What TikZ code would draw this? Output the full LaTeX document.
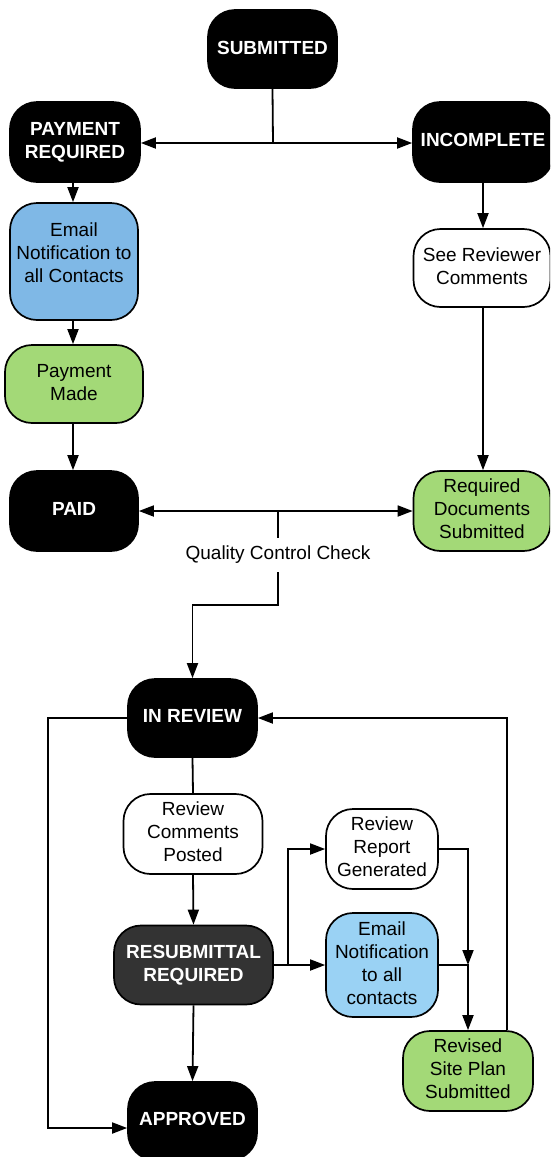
\documentclass[tikz,border=0pt]{standalone}
\usepackage{fontspec}
\setmainfont{Liberation Sans}
\usetikzlibrary{arrows.meta,positioning}
\definecolor{blueA}{HTML}{7FB8E6}
\definecolor{blueB}{HTML}{9AD2F4}
\definecolor{greenA}{HTML}{A3D977}
\definecolor{darkA}{HTML}{333333}
\newcommand\nodetext[2][0]{\raisebox{#1pt}[\height][\depth]{\begin{tabular}{@{}c@{}}#2\end{tabular}}}
\tikzset{
  base/.style={rounded corners=27pt, draw=black, line width=1.7pt,
    inner sep=0pt, font=\fontsize{19}{23}\selectfont},
  blk/.style={base, fill=black, text=white, font=\fontsize{19}{23}\selectfont\bfseries},
  drk/.style={base, fill=darkA, text=white, font=\fontsize{19}{23}\selectfont\bfseries},
  wht/.style={base, fill=white},
  blu/.style={base, fill=blueA},
  lblu/.style={base, fill=blueB},
  grn/.style={base, fill=greenA},
  sz/.style n args={2}{minimum width=#1pt, minimum height=#2pt},
  conn/.style={line width=1.8pt},
  arr/.style={conn, -{Triangle[length=15pt,width=11pt]}},
}
\begin{document}
\begin{tikzpicture}[x=1pt,y=-1pt]
\clip (0,0) rectangle (550,1157);
\fill[white] (0,0) rectangle (550,1157);
% nodes
\node[blk, sz={129}{78}] (sub) at (272.5,49) {\nodetext[-1]{SUBMITTED}};
\node[blk, sz={130}{80}] (pay) at (75,142) {\nodetext{PAYMENT\\REQUIRED}};
\node[blk, sz={140}{80}] (inc) at (483,142) {\nodetext{INCOMPLETE}};
\node[blu, sz={128}{117}] (em1) at (74,261.5) {\nodetext[7]{Email\\Notification to\\all Contacts}};
\node[grn, sz={138}{78}] (made) at (74,384) {\nodetext{Payment\\Made}};
\node[blk, sz={128}{80}] (paid) at (74,511) {\nodetext{PAID}};
\node[wht, sz={137}{78}] (see) at (482,268) {\nodetext{See Reviewer\\Comments}};
\node[grn, sz={137}{80}] (rds) at (482,511) {\nodetext{Required\\Documents\\Submitted}};
\node[font=\fontsize{19}{23}\selectfont, inner sep=0pt, minimum height=34pt] (qc) at (278,555) {Quality Control Check};
\node[blk, sz={129}{78}] (inrev) at (192.5,718) {\nodetext{IN REVIEW}};
\node[wht, sz={139}{80}] (rcp) at (193,834) {\nodetext{Review\\Comments\\Posted}};
\node[drk, sz={159}{79}] (resub) at (193.5,965) {\nodetext{RESUBMITTAL\\REQUIRED}};
\node[blk, sz={129}{78}] (appr) at (192.5,1121) {\nodetext{APPROVED}};
\node[wht, sz={112}{80}] (rrg) at (382,849) {\nodetext{Review\\Report\\Generated}};
\node[lblu, sz={112}{104}] (em2) at (382,965) {\nodetext{Email\\Notification\\to all\\contacts}};
\node[grn, sz={130}{80}] (rsps) at (468,1071) {\nodetext{Revised\\Site Plan\\Submitted}};
% junction coordinates
\coordinate (j1) at (273,143);
\coordinate (j2) at (278,511);
\coordinate (j3) at (288,965);
\coordinate (j4) at (468,965);
% connectors
\draw[conn] (sub.south) -- (j1);
\draw[arr] (j1) -- (j1 -| pay.east);
\draw[arr] (j1) -- (j1 -| inc.west);
\draw[arr] (pay.south -| 73,0) -- (em1.north -| 73,0);
\draw[arr] (em1.south -| 73,0) -- (made.north -| 73,0);
\draw[arr] (made.south -| 73,0) -- (paid.north -| 73,0);
\draw[arr] (inc.south -| 483,0) -- (see.north -| 483,0);
\draw[arr] (see.south -| 483,0) -- (rds.north -| 483,0);
\draw[arr] (j2) -- (paid.east);
\draw[arr] (j2) -- (rds.west);
\draw[conn] (j2) -- (qc.north -| j2);
\draw[arr] (qc.south -| j2) -- (278,605) -| (inrev.north);
\draw[arr] (inrev.west) -- (48,718) |- ([yshift=-7pt]appr.west);
\draw[arr] ([xshift=39pt]rsps.north) |- (inrev.east);
\draw[conn] (inrev.south) -- (rcp.north);
\draw[arr] (rcp.south) -- (resub.north);
\draw[arr] (resub.south) -- (appr.north);
\draw[arr] (resub.east) -- (j3) |- (rrg.west);
\draw[arr] (resub.east) -- (em2.west);
\draw[arr] (rrg.east) -| (j4);
\draw[arr] (em2.east) -- (j4) -- (j4 |- rsps.north);
\end{tikzpicture}
\end{document}
